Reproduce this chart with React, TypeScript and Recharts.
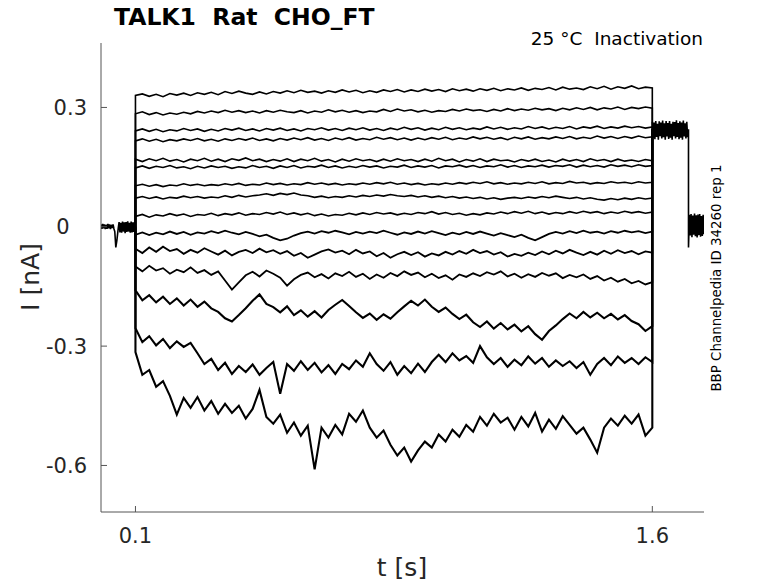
import { LineChart, Line, XAxis, YAxis } from 'recharts';

// sweep step window (0.1 s -> 1.6 s), sampled every 20 ms
const stepTimes = [
  0.1, 0.12, 0.14, 0.16, 0.18, 0.2, 0.22, 0.24, 0.26, 0.28,
  0.3, 0.32, 0.34, 0.36, 0.38, 0.4, 0.42, 0.44, 0.46, 0.48,
  0.5, 0.52, 0.54, 0.56, 0.58, 0.6, 0.62, 0.64, 0.66, 0.68,
  0.7, 0.72, 0.74, 0.76, 0.78, 0.8, 0.82, 0.84, 0.86, 0.88,
  0.9, 0.92, 0.94, 0.96, 0.98, 1.0, 1.02, 1.04, 1.06, 1.08,
  1.1, 1.12, 1.14, 1.16, 1.18, 1.2, 1.22, 1.24, 1.26, 1.28,
  1.3, 1.32, 1.34, 1.36, 1.38, 1.4, 1.42, 1.44, 1.46, 1.48,
  1.5, 1.52, 1.54, 1.56, 1.58, 1.6,
];

// current during the step, nA, one array per sweep (top to bottom)
const sweep01 = [
  0.330, 0.334, 0.328, 0.333, 0.327, 0.335, 0.331, 0.336, 0.330, 0.337,
  0.333, 0.338, 0.332, 0.340, 0.335, 0.341, 0.336, 0.333, 0.339, 0.334,
  0.340, 0.336, 0.342, 0.337, 0.343, 0.338, 0.341, 0.336, 0.342, 0.338,
  0.344, 0.339, 0.343, 0.337, 0.342, 0.338, 0.344, 0.340, 0.345, 0.339,
  0.344, 0.340, 0.346, 0.341, 0.345, 0.340, 0.347, 0.342, 0.346, 0.341,
  0.347, 0.343, 0.348, 0.342, 0.347, 0.344, 0.349, 0.343, 0.348, 0.345,
  0.350, 0.344, 0.351, 0.346, 0.349, 0.345, 0.352, 0.347, 0.353, 0.346,
  0.352, 0.348, 0.354, 0.347, 0.351, 0.349,
];
const sweep02 = [
  0.284, 0.289, 0.282, 0.287, 0.281, 0.286, 0.283, 0.288, 0.284, 0.290,
  0.286, 0.291, 0.287, 0.293, 0.288, 0.292, 0.287, 0.291, 0.286, 0.292,
  0.288, 0.293, 0.289, 0.287, 0.292, 0.286, 0.291, 0.288, 0.294, 0.289,
  0.293, 0.288, 0.292, 0.287, 0.291, 0.289, 0.295, 0.290, 0.296, 0.291,
  0.294, 0.289, 0.293, 0.288, 0.292, 0.290, 0.295, 0.291, 0.296, 0.292,
  0.294, 0.290, 0.295, 0.291, 0.297, 0.292, 0.296, 0.293, 0.298, 0.294,
  0.297, 0.292, 0.298, 0.294, 0.299, 0.295, 0.300, 0.294, 0.299, 0.296,
  0.301, 0.295, 0.300, 0.297, 0.301, 0.298,
];
const sweep03 = [
  0.241, 0.246, 0.240, 0.245, 0.239, 0.244, 0.241, 0.247, 0.242, 0.246,
  0.240, 0.245, 0.241, 0.247, 0.243, 0.248, 0.242, 0.246, 0.241, 0.247,
  0.243, 0.248, 0.242, 0.246, 0.241, 0.247, 0.244, 0.249, 0.243, 0.247,
  0.242, 0.248, 0.244, 0.249, 0.243, 0.247, 0.242, 0.248, 0.244, 0.250,
  0.245, 0.249, 0.243, 0.248, 0.244, 0.250, 0.245, 0.249, 0.244, 0.248,
  0.245, 0.251, 0.246, 0.250, 0.245, 0.249, 0.246, 0.252, 0.247, 0.251,
  0.246, 0.250, 0.247, 0.252, 0.246, 0.251, 0.248, 0.253, 0.247, 0.251,
  0.248, 0.253, 0.249, 0.252, 0.248, 0.251,
];
const sweep04 = [
  0.216, 0.221, 0.215, 0.220, 0.214, 0.219, 0.216, 0.221, 0.217, 0.222,
  0.216, 0.220, 0.215, 0.221, 0.217, 0.222, 0.218, 0.223, 0.217, 0.221,
  0.216, 0.222, 0.218, 0.223, 0.219, 0.224, 0.218, 0.222, 0.217, 0.223,
  0.219, 0.224, 0.218, 0.222, 0.219, 0.225, 0.220, 0.224, 0.219, 0.223,
  0.218, 0.223, 0.219, 0.224, 0.220, 0.225, 0.219, 0.223, 0.220, 0.226,
  0.221, 0.225, 0.220, 0.224, 0.219, 0.225, 0.221, 0.226, 0.220, 0.224,
  0.221, 0.226, 0.222, 0.227, 0.221, 0.225, 0.222, 0.228, 0.223, 0.227,
  0.222, 0.227, 0.223, 0.228, 0.224, 0.226,
];
const sweep05 = [
  0.170, 0.164, 0.171, 0.166, 0.172, 0.165, 0.169, 0.163, 0.170, 0.166,
  0.172, 0.165, 0.170, 0.164, 0.171, 0.167, 0.173, 0.166, 0.170, 0.164,
  0.169, 0.165, 0.171, 0.164, 0.170, 0.166, 0.172, 0.165, 0.169, 0.163,
  0.170, 0.165, 0.171, 0.166, 0.169, 0.164, 0.170, 0.165, 0.171, 0.166,
  0.169, 0.164, 0.170, 0.165, 0.172, 0.166, 0.170, 0.163, 0.169, 0.165,
  0.171, 0.164, 0.170, 0.166, 0.168, 0.163, 0.169, 0.165, 0.170, 0.164,
  0.168, 0.163, 0.170, 0.165, 0.169, 0.164, 0.171, 0.166, 0.169, 0.164,
  0.170, 0.165, 0.168, 0.164, 0.169, 0.166,
];
const sweep06 = [
  0.148, 0.153, 0.147, 0.152, 0.149, 0.154, 0.148, 0.151, 0.146, 0.152,
  0.148, 0.153, 0.149, 0.152, 0.147, 0.151, 0.148, 0.154, 0.149, 0.152,
  0.147, 0.153, 0.149, 0.154, 0.148, 0.152, 0.150, 0.155, 0.149, 0.153,
  0.148, 0.152, 0.149, 0.154, 0.150, 0.153, 0.148, 0.152, 0.150, 0.155,
  0.149, 0.153, 0.150, 0.154, 0.148, 0.153, 0.151, 0.155, 0.150, 0.154,
  0.149, 0.153, 0.151, 0.156, 0.150, 0.154, 0.149, 0.153, 0.151, 0.155,
  0.150, 0.154, 0.152, 0.156, 0.150, 0.155, 0.151, 0.154, 0.150, 0.156,
  0.152, 0.155, 0.151, 0.156, 0.152, 0.154,
];
const sweep07 = [
  0.103, 0.107, 0.102, 0.106, 0.101, 0.105, 0.103, 0.108, 0.104, 0.107,
  0.103, 0.106, 0.104, 0.108, 0.105, 0.109, 0.104, 0.107, 0.105, 0.110,
  0.106, 0.109, 0.105, 0.108, 0.106, 0.111, 0.107, 0.110, 0.106, 0.109,
  0.105, 0.108, 0.106, 0.110, 0.107, 0.111, 0.108, 0.112, 0.107, 0.110,
  0.106, 0.109, 0.105, 0.108, 0.106, 0.110, 0.107, 0.111, 0.108, 0.112,
  0.109, 0.113, 0.108, 0.111, 0.107, 0.110, 0.108, 0.112, 0.109, 0.113,
  0.108, 0.111, 0.109, 0.114, 0.110, 0.112, 0.108, 0.111, 0.109, 0.113,
  0.110, 0.112, 0.109, 0.113, 0.110, 0.112,
];
const sweep08 = [
  0.072, 0.076, 0.071, 0.075, 0.070, 0.074, 0.072, 0.077, 0.073, 0.076,
  0.072, 0.075, 0.073, 0.078, 0.074, 0.079, 0.075, 0.078, 0.080, 0.083,
  0.079, 0.084, 0.081, 0.085, 0.080, 0.078, 0.074, 0.077, 0.073, 0.076,
  0.074, 0.078, 0.075, 0.079, 0.076, 0.080, 0.077, 0.081, 0.078, 0.076,
  0.079, 0.075, 0.078, 0.074, 0.077, 0.073, 0.076, 0.072, 0.075, 0.071,
  0.074, 0.070, 0.073, 0.069, 0.072, 0.074, 0.071, 0.075, 0.072, 0.076,
  0.073, 0.077, 0.074, 0.071, 0.074, 0.070, 0.073, 0.069, 0.067, 0.071,
  0.068, 0.072, 0.069, 0.073, 0.070, 0.072,
];
const sweep09 = [
  0.026, 0.031, 0.024, 0.030, 0.027, 0.033, 0.028, 0.032, 0.026, 0.031,
  0.029, 0.034, 0.028, 0.033, 0.030, 0.035, 0.029, 0.033, 0.031, 0.036,
  0.032, 0.037, 0.031, 0.035, 0.030, 0.034, 0.028, 0.032, 0.027, 0.031,
  0.029, 0.034, 0.030, 0.035, 0.031, 0.036, 0.032, 0.035, 0.030, 0.034,
  0.031, 0.036, 0.033, 0.038, 0.032, 0.036, 0.031, 0.034, 0.029, 0.033,
  0.030, 0.035, 0.032, 0.037, 0.033, 0.038, 0.034, 0.039, 0.033, 0.037,
  0.032, 0.036, 0.033, 0.038, 0.034, 0.039, 0.035, 0.038, 0.033, 0.037,
  0.034, 0.039, 0.035, 0.038, 0.034, 0.037,
];
const sweep10 = [
  -0.020, -0.014, -0.021, -0.015, -0.019, -0.012, -0.018, -0.013, -0.020, -0.014,
  -0.017, -0.011, -0.016, -0.010, -0.015, -0.019, -0.013, -0.018, -0.024, -0.020,
  -0.028, -0.034, -0.030, -0.022, -0.016, -0.012, -0.017, -0.011, -0.015, -0.010,
  -0.014, -0.019, -0.013, -0.017, -0.012, -0.016, -0.010, -0.015, -0.020, -0.014,
  -0.018, -0.012, -0.017, -0.011, -0.016, -0.021, -0.015, -0.019, -0.013, -0.018,
  -0.012, -0.017, -0.022, -0.016, -0.021, -0.026, -0.020, -0.028, -0.034, -0.026,
  -0.018, -0.013, -0.017, -0.011, -0.016, -0.010, -0.015, -0.012, -0.017, -0.011,
  -0.015, -0.010, -0.014, -0.011, -0.016, -0.012,
];
const sweep11 = [
  -0.055, -0.066, -0.052, -0.063, -0.050, -0.061, -0.056, -0.068, -0.058, -0.065,
  -0.054, -0.062, -0.070, -0.060, -0.072, -0.063, -0.058, -0.066, -0.055, -0.064,
  -0.059, -0.068, -0.061, -0.073, -0.066, -0.078, -0.070, -0.062, -0.057, -0.065,
  -0.060, -0.069, -0.058, -0.067, -0.062, -0.074, -0.066, -0.078, -0.069, -0.063,
  -0.071, -0.064, -0.075, -0.067, -0.072, -0.063, -0.070, -0.061, -0.068, -0.058,
  -0.066, -0.061, -0.070, -0.064, -0.075, -0.068, -0.073, -0.065, -0.071, -0.062,
  -0.069, -0.060, -0.067, -0.058, -0.065, -0.071, -0.063, -0.070, -0.060, -0.068,
  -0.059, -0.066, -0.061, -0.069, -0.062, -0.065,
];
const sweep12 = [
  -0.100, -0.112, -0.098, -0.110, -0.104, -0.118, -0.108, -0.114, -0.102, -0.116,
  -0.109, -0.121, -0.112, -0.135, -0.158, -0.140, -0.122, -0.113, -0.125, -0.110,
  -0.118, -0.128, -0.148, -0.132, -0.121, -0.115, -0.127, -0.119, -0.130, -0.117,
  -0.124, -0.113, -0.126, -0.118, -0.131, -0.120, -0.128, -0.116, -0.124, -0.112,
  -0.121, -0.115, -0.127, -0.118, -0.129, -0.122, -0.133, -0.120, -0.126, -0.117,
  -0.124, -0.114, -0.120, -0.112, -0.125, -0.118, -0.128, -0.119, -0.126, -0.116,
  -0.123, -0.117, -0.129, -0.121, -0.127, -0.120, -0.131, -0.124, -0.135, -0.128,
  -0.138, -0.131, -0.142, -0.136, -0.145, -0.139,
];
const sweep13 = [
  -0.160, -0.185, -0.172, -0.190, -0.176, -0.194, -0.180, -0.198, -0.183, -0.201,
  -0.188, -0.205, -0.214, -0.230, -0.238, -0.222, -0.205, -0.186, -0.170, -0.194,
  -0.202, -0.215, -0.200, -0.222, -0.210, -0.226, -0.212, -0.228, -0.209, -0.196,
  -0.184, -0.199, -0.215, -0.229, -0.218, -0.234, -0.220, -0.231, -0.215, -0.200,
  -0.186, -0.198, -0.183, -0.201, -0.214, -0.203, -0.219, -0.232, -0.221, -0.240,
  -0.252, -0.238, -0.256, -0.242, -0.258, -0.246, -0.263, -0.250, -0.270, -0.284,
  -0.262, -0.248, -0.232, -0.218, -0.230, -0.214, -0.228, -0.216, -0.230, -0.219,
  -0.233, -0.222, -0.237, -0.245, -0.262, -0.250,
];
const sweep14 = [
  -0.255, -0.290, -0.275, -0.298, -0.282, -0.305, -0.288, -0.302, -0.292, -0.318,
  -0.345, -0.332, -0.360, -0.342, -0.370, -0.350, -0.365, -0.346, -0.372, -0.355,
  -0.340, -0.420, -0.345, -0.362, -0.338, -0.360, -0.342, -0.366, -0.348, -0.370,
  -0.345, -0.358, -0.336, -0.352, -0.318, -0.345, -0.362, -0.340, -0.372, -0.350,
  -0.368, -0.344, -0.365, -0.340, -0.322, -0.340, -0.318, -0.336, -0.325, -0.342,
  -0.300, -0.328, -0.345, -0.330, -0.352, -0.334, -0.348, -0.326, -0.344, -0.330,
  -0.352, -0.336, -0.350, -0.338, -0.355, -0.340, -0.372, -0.345, -0.330, -0.348,
  -0.326, -0.342, -0.330, -0.345, -0.328, -0.340,
];
const sweep15 = [
  -0.315, -0.372, -0.360, -0.402, -0.388, -0.425, -0.472, -0.430, -0.455, -0.428,
  -0.462, -0.438, -0.470, -0.445, -0.468, -0.450, -0.482, -0.458, -0.410, -0.478,
  -0.495, -0.472, -0.518, -0.492, -0.525, -0.500, -0.610, -0.505, -0.530, -0.498,
  -0.522, -0.470, -0.490, -0.462, -0.505, -0.530, -0.512, -0.548, -0.575, -0.555,
  -0.590, -0.562, -0.540, -0.555, -0.522, -0.540, -0.510, -0.528, -0.498, -0.515,
  -0.478, -0.500, -0.470, -0.492, -0.480, -0.510, -0.478, -0.502, -0.468, -0.515,
  -0.485, -0.508, -0.476, -0.498, -0.520, -0.505, -0.535, -0.568, -0.505, -0.482,
  -0.500, -0.475, -0.495, -0.472, -0.525, -0.505,
];

const sweeps = [
  sweep01, sweep02, sweep03, sweep04, sweep05, sweep06, sweep07, sweep08,
  sweep09, sweep10, sweep11, sweep12, sweep13, sweep14, sweep15,
];

// holding period before the step, shared by all sweeps
const holdTimes = [
  0, 0.0025, 0.005, 0.0075, 0.01, 0.0125, 0.015, 0.0175, 0.02, 0.0225,
  0.025, 0.0275, 0.03, 0.0325, 0.035, 0.0375, 0.04, 0.043, 0.046, 0.05,
  0.0525, 0.055, 0.0575, 0.06, 0.0625, 0.065, 0.0675, 0.07, 0.0725, 0.075,
  0.0775, 0.08, 0.0825, 0.085, 0.0875, 0.09, 0.0925, 0.095, 0.0975, 0.1,
];
const holdValues = [
  0.006, -0.005, 0.007, -0.004, 0.006, -0.006, 0.005, -0.005, 0.007, -0.004,
  0.006, -0.006, 0.005, -0.003, 0.006, -0.005, -0.012, -0.052, -0.035, -0.004,
  0.012, -0.014, 0.010, -0.015, 0.013, -0.012, 0.011, -0.016, 0.012, -0.013,
  0.014, -0.012, 0.010, -0.015, 0.013, -0.014, 0.011, -0.013, 0.012, 0.0,
];

// tail pulse after 1.6 s and return to holding, shared by all sweeps
const tailTimes = [
  1.6, 1.6025, 1.605, 1.6075, 1.61, 1.6125, 1.615, 1.6175, 1.62, 1.6225,
  1.625, 1.6275, 1.63, 1.6325, 1.635, 1.6375, 1.64, 1.6425, 1.645, 1.6475,
  1.65, 1.6525, 1.655, 1.6575, 1.66, 1.6625, 1.665, 1.6675, 1.67, 1.6725,
  1.675, 1.6775, 1.68, 1.6825, 1.685, 1.6875, 1.69, 1.6925, 1.695, 1.6975,
  1.7, 1.7025, 1.705, 1.705, 1.7075, 1.71, 1.7125, 1.715, 1.7175, 1.72,
  1.7225, 1.725, 1.7275, 1.73, 1.7325, 1.735, 1.7375, 1.74, 1.7425, 1.745,
  1.7475, 1.75,
];
const tailValues = [
  0.264, 0.224, 0.262, 0.220, 0.266, 0.226, 0.259, 0.219, 0.265, 0.228,
  0.262, 0.222, 0.267, 0.225, 0.260, 0.219, 0.266, 0.227, 0.261, 0.221,
  0.266, 0.224, 0.259, 0.219, 0.264, 0.228, 0.263, 0.222, 0.268, 0.226,
  0.261, 0.220, 0.265, 0.224, 0.262, 0.219, 0.267, 0.227, 0.260, 0.222,
  0.264, 0.225, 0.245, -0.052, 0.030, -0.022, 0.032, -0.026, 0.028, -0.020,
  0.033, -0.024, 0.029, -0.027, 0.031, -0.021, 0.032, -0.025, 0.027, -0.023,
  0.030, -0.019,
];

const HOLD_LEVEL = 0;
const TAIL_LEVEL = 0.245;

const xTicks = [0.1, 1.6];
const yTicks = [-0.6, -0.3, 0, 0.3];

const W = 778;
const H = 583;
const PLOT_LEFT = 101;
const PLOT_TOP = 43;
const PLOT_RIGHT = 704;
const PLOT_BOTTOM = 512;
const FONT = '"DejaVu Sans", sans-serif';
const TEXT = '#262626';
const AXIS = '#555';

const holdRows = holdTimes.map((t, i) => ({ t, v: holdValues[i] }));
const tailRows = tailTimes.map((t, i) => ({ t, v: tailValues[i] }));
const sweepRows = sweeps.map((vals) => [
  { t: stepTimes[0], v: HOLD_LEVEL },
  ...stepTimes.map((t, i) => ({ t, v: vals[i] })),
  { t: stepTimes[stepTimes.length - 1], v: TAIL_LEVEL },
]);

// noisier sweeps at the bottom read as wider bands
const sweepWidth = (i: number) => (i >= 12 ? 2.1 : i >= 9 ? 1.8 : 1.6);

function YTick({ y, payload }: { y?: number; payload?: { value: number } }) {
  if (y == null || !payload) return null;
  const zero = payload.value === 0;
  return (
    <g>
      <line x1={PLOT_LEFT} x2={PLOT_LEFT + 6} y1={y} y2={y} stroke={AXIS} />
      <text
        x={zero ? 63 : PLOT_LEFT - 14}
        y={y}
        dy="0.36em"
        textAnchor={zero ? 'middle' : 'end'}
        fontSize={21}
        fontFamily={FONT}
        fill={TEXT}
      >
        {String(payload.value)}
      </text>
    </g>
  );
}

function XTick({ x, payload }: { x?: number; payload?: { value: number } }) {
  if (x == null || !payload) return null;
  return (
    <g>
      <line x1={x} x2={x} y1={PLOT_BOTTOM} y2={PLOT_BOTTOM - 6} stroke={AXIS} />
      <text x={x} y={PLOT_BOTTOM + 23} dy="0.36em" textAnchor="middle" fontSize={21} fontFamily={FONT} fill={TEXT}>
        {String(payload.value)}
      </text>
    </g>
  );
}

export default function App() {
  return (
    <div style={{ position: 'absolute', left: 0, top: 0, width: W, height: H, background: '#fff', fontFamily: FONT }}>
      <LineChart
        width={W}
        height={H}
        margin={{ top: PLOT_TOP, right: W - PLOT_RIGHT, bottom: H - PLOT_BOTTOM - 30, left: PLOT_LEFT - 60 }}
      >
        <XAxis
          dataKey="t"
          type="number"
          domain={[0, 1.75]}
          ticks={xTicks}
          allowDataOverflow
          height={30}
          axisLine={{ stroke: AXIS }}
          tickLine={false}
          tick={<XTick />}
        />
        <YAxis
          type="number"
          domain={[-0.717, 0.462]}
          ticks={yTicks}
          allowDataOverflow
          width={60}
          axisLine={{ stroke: AXIS }}
          tickLine={false}
          tick={<YTick />}
        />
        <Line data={holdRows} dataKey="v" stroke="#000" strokeWidth={1.6} dot={false} isAnimationActive={false} />
        {sweepRows.map((rows, i) => (
          <Line
            key={i}
            data={rows}
            dataKey="v"
            stroke="#000"
            strokeWidth={sweepWidth(i)}
            dot={false}
            isAnimationActive={false}
          />
        ))}
        <Line data={tailRows} dataKey="v" stroke="#000" strokeWidth={1.6} dot={false} isAnimationActive={false} />
      </LineChart>

      <div style={{ position: 'absolute', left: 114, top: 3, fontSize: 23.5, fontWeight: 'bold', whiteSpace: 'pre', color: '#000' }}>
        {'TALK1  Rat  CHO_FT'}
      </div>
      <div style={{ position: 'absolute', right: W - 703, top: 28, fontSize: 18.5, whiteSpace: 'pre', color: '#000' }}>
        {'25 °C  Inactivation'}
      </div>
      <div style={{ position: 'absolute', left: 402, top: 567, transform: 'translate(-50%, -50%)', fontSize: 25, color: TEXT, whiteSpace: 'pre' }}>
        t [s]
      </div>
      <div
        style={{ position: 'absolute', left: 30, top: 277, transform: 'translate(-50%, -50%) rotate(-90deg)', fontSize: 25, color: TEXT, whiteSpace: 'pre' }}
      >
        I [nA]
      </div>
      <div
        style={{ position: 'absolute', left: 716, top: 278, transform: 'translate(-50%, -50%) rotate(-90deg)', fontSize: 13.4, color: '#000', whiteSpace: 'pre' }}
      >
        BBP Channelpedia ID 34260 rep 1
      </div>
    </div>
  );
}
